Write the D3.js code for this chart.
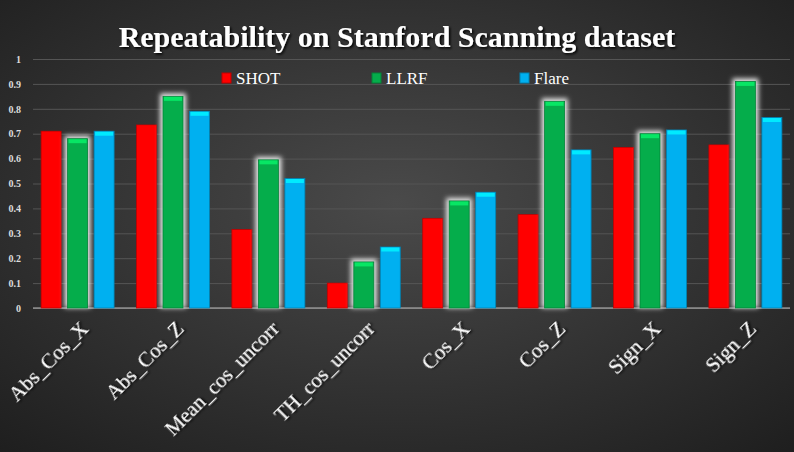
<!DOCTYPE html>
<html><head><meta charset="utf-8">
<script src="https://cdn.jsdelivr.net/npm/d3@7"></script>
<style>body{margin:0;background:#2a2a2a}svg{display:block}</style>
</head><body><svg id="c" width="794" height="452"></svg>
<script>
const categories = ["Abs_Cos_X","Abs_Cos_Z","Mean_cos_uncorr","TH_cos_uncorr","Cos_X","Cos_Z","Sign_X","Sign_Z"];
const series = ["SHOT","LLRF","Flare"];
const shot = [0.71,0.735,0.315,0.10,0.36,0.375,0.645,0.655];
const llrf = [0.68,0.85,0.595,0.185,0.43,0.83,0.70,0.91];
const flare = [0.71,0.79,0.52,0.245,0.465,0.635,0.715,0.765];
const yTicks = [0,0.1,0.2,0.3,0.4,0.5,0.6,0.7,0.8,0.9,1];
const colors = ["#ff0000","#05ad4b","#00b0f0"];
const values = [shot, llrf, flare];

const W = 794, H = 452;
const svg = d3.select("#c");
const defs = svg.append("defs");
const bg = defs.append("radialGradient").attr("id","bg").attr("cx","50%").attr("cy","45%").attr("r","75%");
bg.append("stop").attr("offset","0%").attr("stop-color","#4a4a4a");
bg.append("stop").attr("offset","100%").attr("stop-color","#1e1e1e");
const glow = defs.append("filter").attr("id","glow").attr("x","-40%").attr("y","-20%").attr("width","180%").attr("height","140%");
glow.append("feGaussianBlur").attr("stdDeviation",2.5);
const ts = defs.append("filter").attr("id","ts");
ts.append("feDropShadow").attr("dx",1.5).attr("dy",1.5).attr("stdDeviation",1).attr("flood-color","#000");

svg.append("rect").attr("width",W).attr("height",H).attr("fill","url(#bg)");

const x0 = d3.scaleBand().domain(categories).range([33,790]).paddingInner(0.235).paddingOuter(0.085);
const x1 = d3.scaleBand().domain(series).range([0,x0.bandwidth()]).paddingInner(0.245).paddingOuter(0);
const y = d3.scaleLinear().domain([0,1]).range([308,59]);

const ax = svg.append("g").attr("transform","translate(33,0)")
  .call(d3.axisLeft(y).tickValues(yTicks).tickFormat(d3.format("")).tickSize(-757));
ax.select(".domain").remove();
ax.selectAll(".tick line").attr("stroke","#555").attr("stroke-width",1);
ax.selectAll(".tick text").attr("fill","#ddd").attr("font-family","Liberation Serif").attr("font-size",10).attr("x",-12).attr("font-weight","bold");
svg.append("line").attr("x1",33).attr("x2",790).attr("y1",y(0)).attr("y2",y(0)).attr("stroke","#bbb");

const g = svg.append("g");
categories.forEach((c,i)=>{
  series.forEach((s,j)=>{
    const v = values[j][i], bx = x0(c)+x1(s), bw = x1.bandwidth();
    if (j===1) g.append("rect").attr("x",bx-3).attr("y",y(v)-3).attr("width",bw+6).attr("height",y(0)-y(v)+3)
      .attr("fill","#e8e8e8").attr("filter","url(#glow)");
    g.append("rect").attr("x",bx).attr("y",y(v)).attr("width",bw).attr("height",y(0)-y(v))
      .attr("fill",colors[j]).attr("stroke",d3.color(colors[j]).darker(0.8)).attr("stroke-width",0.8);
    g.append("rect").attr("x",bx+1).attr("y",y(v)+0.5).attr("width",bw-2).attr("height",4)
      .attr("fill",d3.color(colors[j]).brighter(0.8));
  });
});

const xa = svg.append("g");
categories.forEach(c=>{
  const cx = x0(c)+x0.bandwidth()/2;
  xa.append("text").attr("transform",`translate(${cx+12},${330}) rotate(-45)`)
    .attr("text-anchor","end").attr("fill","#fff").attr("font-family","Liberation Serif").attr("font-size",21)
    .attr("filter","url(#ts)").text(c);
});

const legX = [222,372,520];
series.forEach((s,j)=>{
  svg.append("rect").attr("x",legX[j]).attr("y",73).attr("width",9).attr("height",10)
    .attr("fill",colors[j]).attr("stroke",d3.color(colors[j]).darker(0.8));
  svg.append("text").attr("x",legX[j]+14).attr("y",84).attr("fill","#fff")
    .attr("font-family","Liberation Serif").attr("font-size",17).text(s);
});

svg.append("text").attr("x",397).attr("y",47).attr("text-anchor","middle").attr("fill","#fff")
  .attr("font-family","Liberation Serif").attr("font-weight","bold").attr("font-size",30)
  .attr("filter","url(#ts)").text("Repeatability on Stanford Scanning dataset");
</script></body></html>
